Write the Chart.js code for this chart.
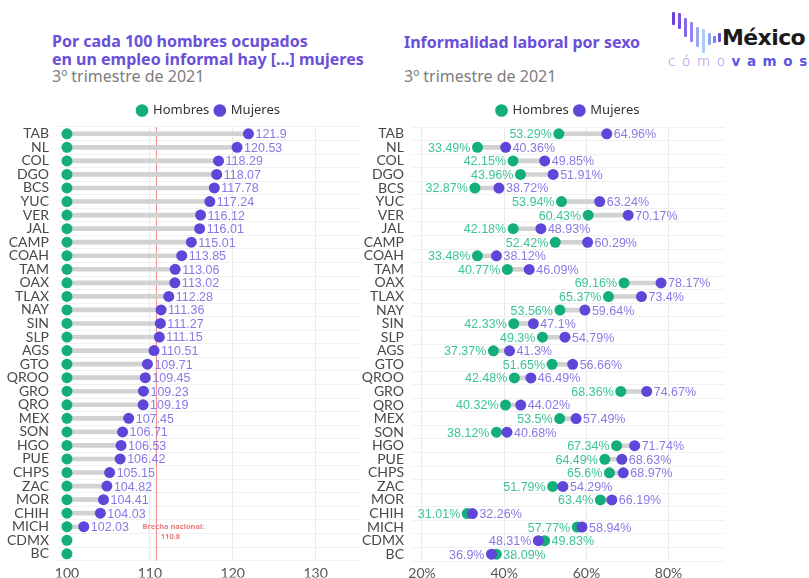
<!DOCTYPE html>
<html lang="es">
<head>
<meta charset="UTF-8">
<title>Informalidad laboral por sexo</title>
<script src="https://cdn.jsdelivr.net/npm/chart.js"></script>
<style>
  body { margin: 0; background: #fff; width: 809px; height: 578px; position: relative; overflow: hidden; font-family: 'Noto Sans', sans-serif; }
  .titulo { position: absolute; color: #6b4fd8; font-weight: 700; font-size: 16px; line-height: 18px; white-space: nowrap; }
  .sub { position: absolute; color: #7d7d7d; font-size: 16px; white-space: nowrap; }
  .chart-box { position: absolute; top: 95px; height: 483px; }
  .logo-bar { position: absolute; width: 3px; border-radius: 1px; }
  .mx { position: absolute; left: 722px; top: 25px; font-family: 'DejaVu Sans', sans-serif; font-weight: 700; font-size: 22px; color: #1a1a1a; letter-spacing: -0.6px; }
  .cv { position: absolute; left: 668px; top: 53px; font-family: 'DejaVu Sans', sans-serif; font-size: 13.5px; letter-spacing: 6.6px; white-space: nowrap; }
  .cv .como { color: #8f84e8; font-weight: 300; }
  .cv .vamos { color: #5b55df; font-weight: 700; }
</style>
</head>
<body>
  <div class="titulo" style="left:52px; top:32px;">Por cada 100 hombres ocupados<br>en un empleo informal hay [...] mujeres</div>
  <div class="sub" style="left:52px; top:65px;">3º trimestre de 2021</div>
  <div class="titulo" style="left:404px; top:33px;">Informalidad laboral por sexo</div>
  <div class="sub" style="left:404px; top:65px;">3º trimestre de 2021</div>

  <!-- logo -->
  <div class="logo-bar" style="left:672px; top:12px; height:13px; background:#6a3fe0;"></div>
  <div class="logo-bar" style="left:678px; top:13px; height:16px; background:#7550e4;"></div>
  <div class="logo-bar" style="left:684px; top:18px; height:19px; background:#8468e8;"></div>
  <div class="logo-bar" style="left:690px; top:22px; height:20px; background:#9284ec;"></div>
  <div class="logo-bar" style="left:696px; top:27px; height:20px; background:#9fa6f1;"></div>
  <div class="logo-bar" style="left:702px; top:29px; height:24px; background:#aecbf6;"></div>
  <div class="logo-bar" style="left:708px; top:33px; height:12px; background:#8ea6f0;"></div>
  <div class="logo-bar" style="left:713px; top:36px; height:7px; background:#7a82e8;"></div>
  <div class="logo-bar" style="left:718px; top:33px; height:9px; background:#6552dc;"></div>
  <div class="mx">México</div>
  <div class="cv"><span class="como">cómo</span><span class="vamos">vamos</span></div>

  <div class="chart-box" style="left:0; width:365px;"><canvas id="brechaChart" width="365" height="483"></canvas></div>
  <div class="chart-box" style="left:355px; width:375px;"><canvas id="sexoChart" width="375" height="483"></canvas></div>

<script>
  // datos: 3er trimestre 2021
  const estados = ['TAB', 'NL', 'COL', 'DGO', 'BCS', 'YUC', 'VER', 'JAL', 'CAMP', 'COAH', 'TAM', 'OAX', 'TLAX', 'NAY', 'SIN', 'SLP',
                   'AGS', 'GTO', 'QROO', 'GRO', 'QRO', 'MEX', 'SON', 'HGO', 'PUE', 'CHPS', 'ZAC', 'MOR', 'CHIH', 'MICH', 'CDMX', 'BC'];
  // mujeres por cada 100 hombres (CDMX y BC quedan por debajo de 100)
  const brecha = [121.9, 120.53, 118.29, 118.07, 117.78, 117.24, 116.12, 116.01, 115.01, 113.85, 113.06, 113.02, 112.28, 111.36, 111.27, 111.15,
                  110.51, 109.71, 109.45, 109.23, 109.19, 107.45, 106.71, 106.53, 106.42, 105.15, 104.82, 104.41, 104.03, 102.03, null, null];
  const base = 100;
  const brechaNacional = 110.8;
  // tasa de informalidad (%)
  const hombres = [53.29, 33.49, 42.15, 43.96, 32.87, 53.94, 60.43, 42.18, 52.42, 33.48, 40.77, 69.16, 65.37, 53.56, 42.33, 49.3,
                   37.37, 51.65, 42.48, 68.36, 40.32, 53.5, 38.12, 67.34, 64.49, 65.6, 51.79, 63.4, 31.01, 57.77, 49.83, 38.09];
  const mujeres = [64.96, 40.36, 49.85, 51.91, 38.72, 63.24, 70.17, 48.93, 60.29, 38.12, 46.09, 78.17, 73.4, 59.64, 47.1, 54.79,
                   41.3, 56.66, 46.49, 74.67, 44.02, 57.49, 40.68, 71.74, 68.63, 68.97, 54.29, 66.19, 32.26, 58.94, 48.31, 36.9];
  const ticksBrecha = [100, 110, 120, 130];
  const ticksPct = [20, 40, 60, 80];

  const VERDE = '#13ae7b', MORADO = '#5f46d8', GRIS = '#d2d2d2';
  const VERDE_TXT = '#3cc497', MORADO_TXT = '#8a78e6';

  Chart.defaults.font.family = 'Lato, sans-serif';
  Chart.defaults.color = '#555';

  // la leyenda va centrada sobre el area de trazado, no sobre todo el canvas
  const leyendaCentrada = {
    id: 'leyendaCentrada',
    afterLayout(chart) {
      const lg = chart.legend, ca = chart.chartArea;
      if (!lg) return;
      const dx = (ca.left + ca.right) / 2 - (lg.left + lg.right) / 2;
      lg.left += dx;
      lg.right += dx;
    }
  };

  // etiquetas de valor junto a cada punto
  const etiquetas = {
    id: 'etiquetas',
    afterDatasetsDraw(chart, args, opts) {
      const ctx = chart.ctx;
      const dsH = chart.data.datasets[1].data, dsM = chart.data.datasets[2].data;
      const ptH = chart.getDatasetMeta(1).data, ptM = chart.getDatasetMeta(2).data;
      ctx.save();
      ctx.font = '12.5px "Liberation Sans", Arial, sans-serif';
      ctx.textBaseline = 'middle';
      dsM.forEach((m, i) => {
        if (m == null) return;
        const pm = ptM[i], ph = ptH[i];
        if (opts.soloMujeres) {
          ctx.fillStyle = MORADO_TXT;
          ctx.textAlign = 'left';
          ctx.fillText(opts.fmt(m), pm.x + 7, pm.y + 1);
          return;
        }
        const h = dsH[i];
        const mDer = m >= h;
        ctx.fillStyle = VERDE_TXT;
        ctx.textAlign = mDer ? 'right' : 'left';
        ctx.fillText(opts.fmt(h), ph.x + (mDer ? -7 : 7), ph.y + 1);
        ctx.fillStyle = MORADO_TXT;
        ctx.textAlign = mDer ? 'left' : 'right';
        ctx.fillText(opts.fmt(m), pm.x + (mDer ? 7 : -7), pm.y + 1);
      });
      ctx.restore();
    }
  };

  // linea de la brecha nacional
  const lineaNacional = {
    id: 'lineaNacional',
    beforeDatasetsDraw(chart, args, opts) {
      const ctx = chart.ctx, ca = chart.chartArea, y = chart.scales.y;
      const x = chart.scales.x.getPixelForValue(opts.valor);
      ctx.save();
      ctx.strokeStyle = 'rgba(238, 120, 120, 0.85)';
      ctx.lineWidth = 1;
      ctx.beginPath();
      ctx.moveTo(x, ca.top);
      ctx.lineTo(x, ca.bottom);
      ctx.stroke();
      ctx.fillStyle = 'rgba(232, 110, 110, 0.9)';
      ctx.font = 'bold 7.5px "Noto Sans", sans-serif';
      ctx.textAlign = 'center';
      ctx.textBaseline = 'middle';
      const yMich = y.getPixelForValue(estados.indexOf('MICH'));
      ctx.fillText('Brecha nacional:', x + 17, yMich);
      ctx.fillText(String(opts.valor), x + 14, yMich + 10);
      ctx.restore();
    }
  };

  function datasetsDumbbell(h, m) {
    return [
      {
        type: 'bar',
        label: 'rango',
        data: h.map((v, i) => (v == null || m[i] == null) ? null : [v, m[i]]),
        backgroundColor: GRIS,
        barThickness: 4,
        order: 3
      },
      {
        type: 'line',
        label: 'Hombres',
        data: h,
        showLine: false,
        pointRadius: 5.5,
        pointBackgroundColor: VERDE,
        pointBorderWidth: 0,
        backgroundColor: VERDE,
        borderColor: VERDE,
        pointStyle: 'circle',
        order: 2
      },
      {
        type: 'line',
        label: 'Mujeres',
        data: m,
        showLine: false,
        pointRadius: 5.5,
        pointBackgroundColor: MORADO,
        pointBorderWidth: 0,
        backgroundColor: MORADO,
        borderColor: MORADO,
        pointStyle: 'circle',
        order: 1
      }
    ];
  }

  function opciones(xMin, xMax, ticks, fmt, anchoEje, extra) {
    return {
      responsive: false,
      animation: false,
      indexAxis: 'y',
      layout: { padding: { top: 3, right: 5 } },
      plugins: Object.assign({
        legend: {
          position: 'top',
          labels: {
            usePointStyle: true,
            pointStyle: 'circle',
            boxWidth: 9,
            boxHeight: 9,
            padding: 6,
            color: '#333',
            font: { size: 13, family: '"Noto Sans", sans-serif' },
            filter: item => item.datasetIndex > 0,
            sort: (a, b) => a.datasetIndex - b.datasetIndex
          }
        },
        tooltip: { enabled: false }
      }, extra),
      scales: {
        x: {
          min: xMin,
          max: xMax,
          afterBuildTicks: s => { s.ticks = ticks.map(v => ({ value: v })); },
          afterFit: s => { s.height = 17; },
          grid: { color: '#e9e9e9', drawTicks: false },
          border: { display: false },
          ticks: { font: { size: 14 }, color: '#555', padding: 4, callback: v => fmt(v) }
        },
        y: {
          afterFit: s => { s.width = anchoEje; },
          grid: { color: '#f1f1f1', drawTicks: false },
          border: { display: false },
          ticks: { font: { size: 14 }, color: '#484848', padding: anchoEje - 49, autoSkip: false }
        }
      }
    };
  }

  new Chart(document.getElementById('brechaChart'), {
    data: { labels: estados, datasets: datasetsDumbbell(estados.map(() => base), brecha) },
    options: opciones(98.92, 135.3, ticksBrecha, v => String(v), 58, {
      etiquetas: { soloMujeres: true, fmt: v => String(v) },
      lineaNacional: { valor: brechaNacional }
    }),
    plugins: [leyendaCentrada, etiquetas, lineaNacional]
  });

  new Chart(document.getElementById('sexoChart'), {
    data: { labels: estados, datasets: datasetsDumbbell(hombres, mujeres) },
    options: opciones(17.57, 93.6, ticksPct, v => v + '%', 57, {
      etiquetas: { soloMujeres: false, fmt: v => v + '%' }
    }),
    plugins: [leyendaCentrada, etiquetas]
  });
</script>
</body>
</html>
